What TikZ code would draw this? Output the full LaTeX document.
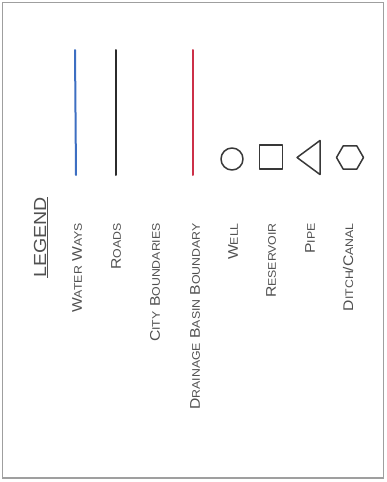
\documentclass[tikz,border=0pt]{standalone}
\usepackage{fontspec}
\setmainfont{Liberation Sans}[FakeStretch=1.12]
\usetikzlibrary{shapes.geometric}
\definecolor{inkgray}{HTML}{505050}
\definecolor{symgray}{HTML}{383838}
\definecolor{waterblue}{HTML}{3D6FC2}
\definecolor{roadblack}{HTML}{2B2B2B}
\definecolor{basinred}{HTML}{CC3048}
\newcommand\smcap[1]{{\fontsize{11pt}{11pt}\selectfont #1}}

\begin{document}
\begin{tikzpicture}[x=1pt, y=-1pt,
    frame/.style={draw=gray!75, line width=1.2pt},
    title/.style={rotate=90, anchor=base east, inner sep=0pt, text=inkgray, font=\fontsize{17.5pt}{17.5pt}\selectfont},
    lbl/.style={rotate=90, anchor=east, inner sep=0pt, text depth=0pt, text=inkgray, font=\fontsize{14pt}{14pt}\selectfont},
    sample/.style={line width=2pt, line cap=round},
    symbol/.style={draw=symgray, line width=1.5pt, line join=round, inner sep=0pt}]

    \useasboundingbox (0,0) rectangle (386,482);
    \draw [frame] (2.5,2.5) rectangle (383.5,478);

    \node [title] (legend) at (46,197) {\underline{LEGEND}};
    \node [lbl] (ww) at (77,223) {W\smcap{ATER} W\smcap{AYS}};
    \node [lbl] (roads) at (116,223) {R\smcap{OADS}};
    \node [lbl] (city) at (155,223) {C\smcap{ITY} B\smcap{OUNDARIES}};
    \node [lbl] (basin) at (195,223) {D\smcap{RAINAGE} B\smcap{ASIN} B\smcap{OUNDARY}};
    \node [lbl] (well) at (233,223) {W\smcap{ELL}};
    \node [lbl] (res) at (271,223) {R\smcap{ESERVOIR}};
    \node [lbl] (pipe) at (310,223) {P\smcap{IPE}};
    \node [lbl] (ditch) at (348,223) {D\smcap{ITCH}/C\smcap{ANAL}};

    \draw [sample, waterblue] (75,50) -- (76,175);
    \draw [sample, roadblack] (116,50) -- (116,175);
    \draw [sample, basinred] (193,50) -- (193,175);

    \node [symbol, circle, minimum size=22pt] (wellsym) at (232,159) {};
    \node [symbol, rectangle, minimum width=23pt, minimum height=24pt] (ressym) at (271,157) {};
    \coordinate (pipesym) at (297,157.5);
    \draw [symbol] (pipesym) -- ++(23,-17) -- ++(0,34) -- cycle;
    \node [symbol, regular polygon, regular polygon sides=6, minimum size=27pt] (ditchsym) at (350,157.5) {};
\end{tikzpicture}
\end{document}
